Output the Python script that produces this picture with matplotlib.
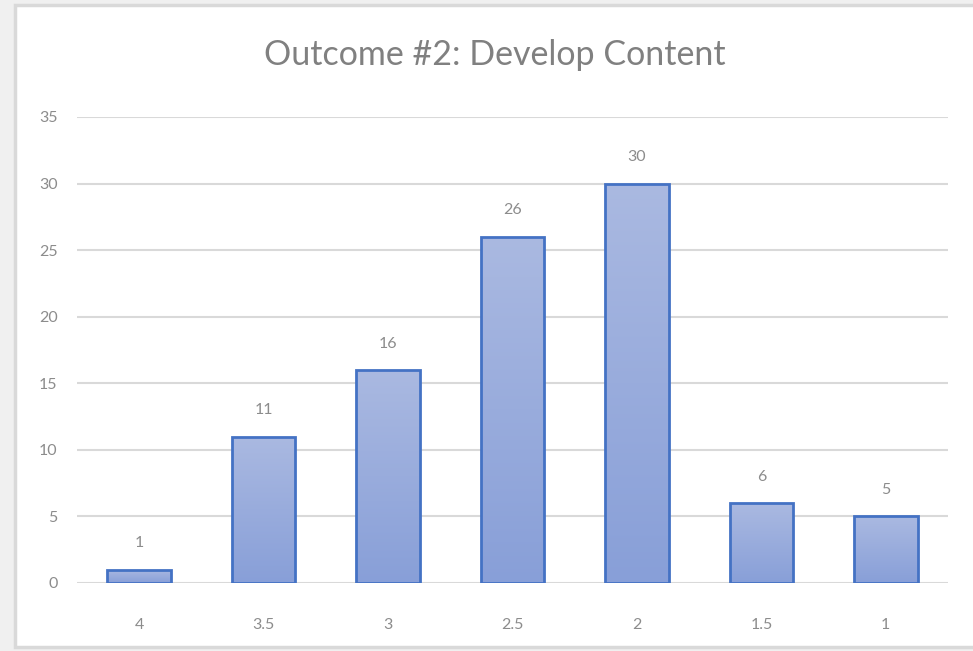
import numpy as np
import matplotlib.pyplot as plt
from matplotlib.patches import Rectangle
from matplotlib.colors import LinearSegmentedColormap

categories = ['4', '3.5', '3', '2.5', '2', '1.5', '1']
counts = [1, 11, 16, 26, 30, 6, 5]
y_ticks = [0, 5, 10, 15, 20, 25, 30, 35]

plt.rcParams['font.family'] = ['Lato', 'DejaVu Sans']
grey = '#8c8c8c'

fig = plt.figure(figsize=(9.73, 6.51), dpi=100, facecolor='#f0f0f0')
# white chart area with a light border
fig.patches.append(Rectangle((0.0154, 0.006), 1.0, 0.9862, transform=fig.transFigure,
                             facecolor='white', edgecolor='#d9d9d9', linewidth=2.5, zorder=-10))

ax = fig.add_axes([0.0791, 0.1045, 0.8952, 0.7158])
ax.set_facecolor('none')
x = np.arange(len(categories))
bars = ax.bar(x, counts, width=0.51, color='none', edgecolor='#4472c4', linewidth=2, zorder=3)

# vertical gradient fill inside each bar (lighter at top)
grad = np.linspace(0, 1, 256).reshape(-1, 1)
cmap = LinearSegmentedColormap.from_list('g', ['#aab9e1', '#889fd8'])
for b in bars:
    x0, w, h = b.get_x(), b.get_width(), b.get_height()
    im = ax.imshow(grad, cmap=cmap, extent=[x0, x0 + w, 0, h], aspect='auto', zorder=2)
    im.set_clip_path(b)

for xi, v in zip(x, counts):
    ax.annotate(str(v), (xi, v), xytext=(0, 14), textcoords='offset points',
                ha='center', va='bottom', fontsize=11.5, color=grey)

ax.set_xlim(-0.5, len(categories) - 0.5)
ax.set_ylim(0, 35)
ax.set_yticks(y_ticks)
ax.set_xticks(x)
ax.set_xticklabels(categories)
ax.tick_params(length=0, labelsize=11.5, labelcolor=grey)
ax.tick_params(axis='x', pad=25)
ax.tick_params(axis='y', pad=14)
ax.grid(axis='y', color='#d9d9d9', linewidth=1.5, zorder=0)
for s in ax.spines.values():
    s.set_visible(False)

fig.text(0.509, 0.915, 'Outcome #2: Develop Content', ha='center', va='center',
         fontsize=24.5, color='#808080')

fig.savefig('out.png', dpi=100, facecolor=fig.get_facecolor())
